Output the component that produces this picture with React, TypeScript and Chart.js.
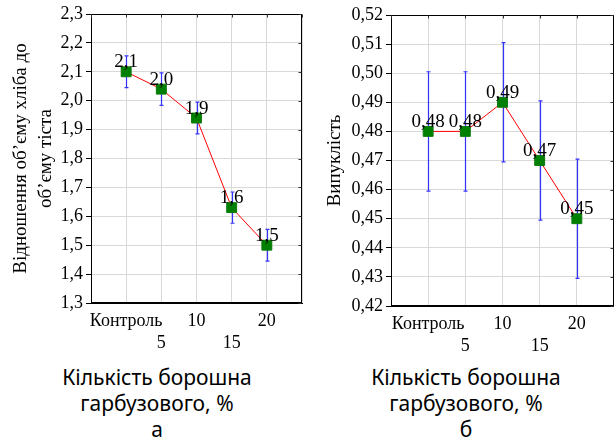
import React, { useEffect, useRef } from "react";
import { Chart, registerables } from "chart.js";

Chart.register(...registerables);

// ---- data ----
const categories = ["Контроль", "5", "10", "15", "20"];
const ratioValues = [2.1, 2.04, 1.94, 1.63, 1.5];
const ratioErrors = [0.055, 0.056, 0.055, 0.054, 0.055];
const ratioLabels = ["2,1", "2,0", "1,9", "1,6", "1,5"];
const convexValues = [0.48, 0.48, 0.49, 0.47, 0.45];
const convexErrors = [0.0205, 0.0205, 0.0205, 0.0205, 0.0205];
const convexLabels = ["0,48", "0,48", "0,49", "0,47", "0,45"];
const ratioTitle = ["Відношення об’єму хліба до", "об’єму тіста"];
const convexTitle = "Випуклість";
const xTitleLines = ["Кількість борошна", "гарбузового, %"];
const panelLetters = ["а", "б"];

const SERIF = "'Liberation Serif', 'Times New Roman', serif";

const extrasPlugin = {
  id: "extras",
  beforeDatasetsDraw(chart: any, _args: any, opts: any) {
    const { ctx } = chart;
    const xs = chart.scales.x;
    const ys = chart.scales.y;
    const vals: number[] = opts.values || [];
    const errs: number[] = opts.errors || [];
    ctx.save();
    ctx.strokeStyle = "rgba(30,30,255,0.9)";
    ctx.lineWidth = 1.2;
    vals.forEach((v, i) => {
      const x = Math.round(xs.getPixelForValue(i + 1)) + 0.5;
      const yt = ys.getPixelForValue(v + errs[i]);
      const yb = ys.getPixelForValue(v - errs[i]);
      ctx.beginPath();
      ctx.moveTo(x, yt);
      ctx.lineTo(x, yb);
      ctx.moveTo(x - 2, yt);
      ctx.lineTo(x + 2, yt);
      ctx.moveTo(x - 2, yb);
      ctx.lineTo(x + 2, yb);
      ctx.stroke();
    });
    ctx.restore();
  },
  afterDatasetsDraw(chart: any, _args: any, opts: any) {
    const { ctx } = chart;
    const xs = chart.scales.x;
    const ys = chart.scales.y;
    const vals: number[] = opts.values || [];
    const labels: string[] = opts.labels || [];
    ctx.save();
    ctx.fillStyle = "#000";
    ctx.font = "19px " + SERIF;
    ctx.textAlign = "center";
    ctx.textBaseline = "alphabetic";
    vals.forEach((v, i) => {
      const x = xs.getPixelForValue(i + 1);
      const y = ys.getPixelForValue(v);
      ctx.fillText(labels[i], x, y - 4.5);
    });
    ctx.restore();
  },
  afterDraw(chart: any) {
    const { ctx, chartArea } = chart;
    const xs = chart.scales.x;
    const ys = chart.scales.y;
    const l = Math.round(chartArea.left) + 0.5;
    const r = Math.round(chartArea.right) - 0.5;
    const t = Math.round(chartArea.top) + 0.5;
    const b = Math.round(chartArea.bottom) - 0.5;
    ctx.save();
    ctx.strokeStyle = "#000";
    ctx.lineWidth = 1;
    ctx.strokeRect(l, t, r - l, b - t);
    ctx.strokeStyle = "#333";
    ctx.beginPath();
    xs.ticks.forEach((tk: any) => {
      const x = Math.round(xs.getPixelForValue(tk.value)) + 0.5;
      ctx.moveTo(x, t);
      ctx.lineTo(x, t + 3);
    });
    ys.ticks.forEach((tk: any) => {
      const y = Math.round(ys.getPixelForValue(tk.value)) + 0.5;
      ctx.moveTo(r, y);
      ctx.lineTo(r - 3, y);
    });
    ctx.stroke();
    ctx.restore();
  },
};

function makeConfig(p: {
  values: number[];
  errors: number[];
  labels: string[];
  yMin: number;
  yMax: number;
  step: number;
  decimals: number;
  title: string | string[];
  titlePad: number;
  axisWidth: number;
  axisHeight: number;
  padTop: number;
  padRight: number;
}): any {
  return {
    type: "line",
    data: {
      datasets: [
        {
          data: p.values.map((v, i) => ({ x: i + 1, y: v })),
          borderColor: "#ff0000",
          borderWidth: 1,
          pointStyle: "rect",
          pointRadius: 7,
          pointBackgroundColor: "#008000",
          pointBorderColor: "#0a7a0a",
          pointBorderWidth: 1,
          tension: 0,
          fill: false,
        },
      ],
    },
    options: {
      responsive: false,
      animation: false,
      layout: { autoPadding: false, padding: { top: p.padTop, right: p.padRight, left: 0, bottom: 0 } },
      plugins: {
        legend: { display: false },
        tooltip: { enabled: false },
        extras: { values: p.values, errors: p.errors, labels: p.labels },
      },
      scales: {
        x: {
          type: "linear",
          min: 0,
          max: 6,
          afterFit: (s: any) => {
            s.height = p.axisHeight;
          },
          ticks: {
            stepSize: 1,
            autoSkip: false,
            maxRotation: 0,
            minRotation: 0,
            padding: 0,
            color: "#000",
            font: { family: SERIF, size: 18, lineHeight: 1.2 },
            callback: (v: any) => {
              const i = Math.round(Number(v)) - 1;
              if (i < 0 || i >= categories.length) return "";
              return i % 2 === 0 ? categories[i] : ["", categories[i]];
            },
          },
          grid: { color: "#d9d9d9", drawTicks: true, tickLength: 7.5, tickColor: "rgba(0,0,0,0)" },
          border: { color: "#000" },
        },
        y: {
          type: "linear",
          min: p.yMin,
          max: p.yMax,
          afterFit: (s: any) => {
            s.width = p.axisWidth;
          },
          ticks: {
            stepSize: p.step,
            padding: 3,
            color: "#000",
            font: { family: SERIF, size: 18 },
            callback: (v: any) => Number(v).toFixed(p.decimals).replace(".", ","),
          },
          grid: { color: "#d9d9d9", tickColor: "#000", tickLength: 5 },
          border: { color: "#000" },
          title: {
            display: true,
            text: p.title,
            color: "#000",
            font: { family: SERIF, size: 19, lineHeight: 1.35 },
            padding: { top: p.titlePad, bottom: 0 },
          },
        },
      },
    },
    plugins: [extrasPlugin],
  };
}

function Panel(props: { cfg: any; left: number; width: number; height: number }) {
  const ref = useRef<HTMLCanvasElement | null>(null);
  useEffect(() => {
    if (!ref.current) return;
    const chart = new Chart(ref.current, props.cfg);
    return () => chart.destroy();
  }, []);
  return (
    <canvas
      ref={ref}
      width={props.width}
      height={props.height}
      style={{ position: "absolute", left: props.left, top: 0, width: props.width, height: props.height }}
    />
  );
}

function Caption(props: { center: number; letter: string }) {
  return (
    <div
      style={{
        position: "absolute",
        left: props.center - 120,
        width: 240,
        top: 364,
        textAlign: "center",
        fontFamily: "'Noto Sans', sans-serif",
        fontSize: 21,
        lineHeight: "26px",
        color: "#000",
      }}
    >
      {xTitleLines.map((t, i) => (
        <div key={i}>{t}</div>
      ))}
      <div>{props.letter}</div>
    </div>
  );
}

export default function App() {
  const leftCfg = makeConfig({
    values: ratioValues,
    errors: ratioErrors,
    labels: ratioLabels,
    yMin: 1.3,
    yMax: 2.3,
    step: 0.1,
    decimals: 1,
    title: ratioTitle,
    titlePad: 8,
    axisWidth: 91,
    axisHeight: 57,
    padTop: 14,
    padRight: 5,
  });
  const rightCfg = makeConfig({
    values: convexValues,
    errors: convexErrors,
    labels: convexLabels,
    yMin: 0.42,
    yMax: 0.52,
    step: 0.01,
    decimals: 2,
    title: convexTitle,
    titlePad: 15,
    axisWidth: 84,
    axisHeight: 54,
    padTop: 15,
    padRight: 0,
  });
  return (
    <div style={{ position: "absolute", left: 0, top: 0, width: 614, height: 441, background: "#fff", overflow: "hidden" }}>
      <Panel cfg={leftCfg} left={0} width={307} height={360} />
      <Panel cfg={rightCfg} left={307} width={307} height={360} />
      <Caption center={157} letter={panelLetters[0]} />
      <Caption center={466} letter={panelLetters[1]} />
    </div>
  );
}
